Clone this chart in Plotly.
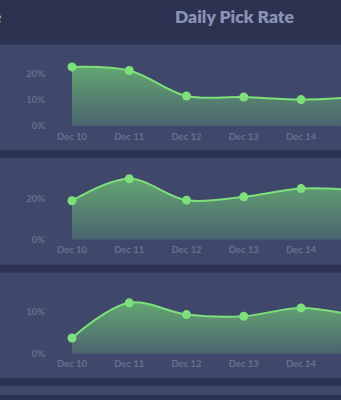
import plotly.graph_objects as go

W, H = 341, 400

dates = ["Dec 10", "Dec 11", "Dec 12", "Dec 13", "Dec 14", "Dec 15"]
rate_a = [22.8, 21.4, 11.6, 11.2, 10.2, 11.3]
rate_b = [18.9, 29.6, 19.2, 20.8, 24.8, 24.0]
rate_c = [3.8, 12.2, 9.4, 9.0, 11.0, 9.0]
title_text = "Daily Pick Rate"

BG_DARK = "#2c3350"
PANEL = "#3f486a"
LINE = "#7ee07a"
TICK = "#696f90"


def py(p):
    return 1 - p / H


def px(p):
    return p / W


fig = go.Figure()

# panel rectangles (pixel y ranges)
panels = [(45, 152), (160, 268), (276, 383), (391, 400)]
for top, bot in panels:
    fig.add_shape(type="rect", xref="paper", yref="paper", x0=0, x1=1,
                  y0=py(bot), y1=py(top), fillcolor=PANEL, line_width=0, layer="below")

# axes specs: (zero pixel, px per %, top pixel, dtick)
specs = [(127.7, 2.63, 50, 10), (242.7, 2.085, 165, 20), (358.3, 4.23, 281, 10)]
series = [rate_a, rate_b, rate_c]

x0_pix, x_step = 72.0, 57.25
dom_left = 48
xr = [(dom_left - x0_pix) / x_step, (W - x0_pix) / x_step]

layout_axes = {}
for i, ((zero, scale, top, dt), vals) in enumerate(zip(specs, series), start=1):
    xa = "x" if i == 1 else f"x{i}"
    ya = "y" if i == 1 else f"y{i}"
    fig.add_trace(go.Scatter(
        x=dates, y=vals, xaxis=xa, yaxis=ya, mode="lines+markers",
        line=dict(color=LINE, width=2, shape="spline", smoothing=1.0),
        marker=dict(color=LINE, size=9),
        fill="tozeroy",
        fillgradient=dict(type="vertical",
                          colorscale=[[0, "#4a626f"], [1, "#62a571"]],
                          start=0, stop=max(vals)),
        hoverinfo="skip", showlegend=False,
    ))
    ymax = (zero - top) / scale
    sfx = "" if i == 1 else str(i)
    layout_axes["xaxis" + sfx] = dict(
        domain=[px(dom_left), 1], range=xr, type="category",
        anchor="y" + ("" if i == 1 else str(i)),
        showgrid=False, zeroline=False, showline=False, ticks="",
        tickfont=dict(family="Lato", size=9.5, color=TICK, weight=700),
        ticklabelstandoff=3, fixedrange=True,
    )
    layout_axes["yaxis" + sfx] = dict(
        domain=[py(zero), py(top)], range=[0, ymax],
        anchor="x" + ("" if i == 1 else str(i)),
        dtick=dt, ticksuffix="%",
        showgrid=False, zeroline=False, showline=False, ticks="",
        tickfont=dict(family="Lato", size=9.5, color=TICK, weight=700),
        ticklabelstandoff=2, fixedrange=True,
    )

fig.update_layout(
    width=W, height=H, margin=dict(l=0, r=0, t=0, b=0),
    paper_bgcolor=BG_DARK, plot_bgcolor="rgba(0,0,0,0)",
    **layout_axes,
)

fig.add_annotation(text=title_text, xref="paper", yref="paper",
                   x=px(234.5), y=py(17), xanchor="center", yanchor="middle",
                   showarrow=False,
                   font=dict(family="Lato", size=17.5, color="#8b92b3", weight=800))
fig.add_annotation(text="e", xref="paper", yref="paper",
                   x=px(3), y=py(17), xanchor="right", yanchor="middle",
                   showarrow=False,
                   font=dict(family="Lato", size=17.5, color="#b4b9d0", weight=700))

fig.write_html("out.html")
